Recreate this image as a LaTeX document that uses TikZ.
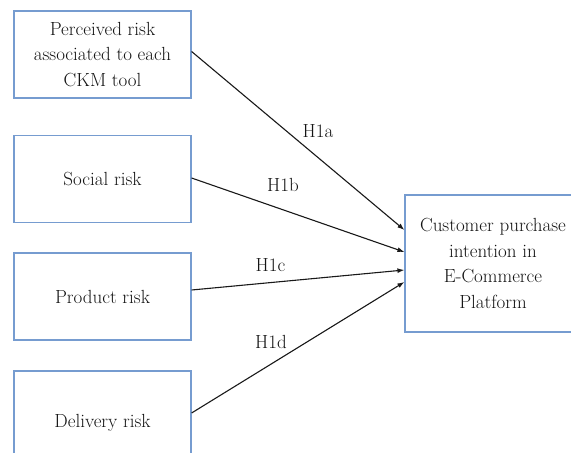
\documentclass[tikz,border=0pt]{standalone}
\usepackage{fontspec}
\usetikzlibrary{arrows.meta}
\definecolor{boxblue}{RGB}{118,156,208}
\definecolor{inkgray}{RGB}{20,20,20}
\tikzset{
  riskbox/.style = {draw=boxblue, line width=1.2pt, align=center, inner sep=0pt, minimum width=177pt, minimum height=87pt, text=inkgray, font=\fontsize{19}{25.7}\selectfont},
  intentbox/.style = {riskbox, minimum width=176pt, minimum height=137pt},
  hyparrow/.style = {draw=black!90, line width=1.1pt, -{Latex[length=7pt,width=5pt]}},
  hyplabel/.style = {text=inkgray, inner sep=0pt, font=\fontsize{19}{20}\selectfont}
}

\begin{document}
\begin{tikzpicture}[x=1pt, y=-1pt]
      \useasboundingbox (0,0) rectangle (571,453);
      \node [riskbox] (perceived) at (102.5,54.5) {Perceived risk\\associated to each\\CKM tool};
      \node [riskbox] (social) at (102.5,179) {Social risk};
      \node [riskbox] (product) at (102.5,296.5) {Product risk};
      \node [riskbox, minimum height=104pt] (delivery) at (102.5,423) {Delivery risk};
      \node [intentbox] (intent) at (493,263.5) {Customer purchase\\intention in\\E-Commerce\\Platform};
      \draw [hyparrow] ([yshift=3pt]perceived.east) -- ([yshift=33.5pt]intent.west);
      \draw [hyparrow] ([yshift=1pt]social.east) -- ([yshift=11.5pt]intent.west);
      \draw [hyparrow] ([yshift=6.5pt]product.east) -- ([yshift=-6.5pt]intent.west);
      \draw [hyparrow] ([yshift=10pt]delivery.east) -- ([yshift=-18.5pt]intent.west);
      \node [hyplabel] (h1a) at (318,131) {H1a};
      \node [hyplabel] (h1b) at (283,185) {H1b};
      \node [hyplabel] (h1c) at (270.5,265) {H1c};
      \node [hyplabel] (h1d) at (271,341.5) {H1d};
    \end{tikzpicture}
\end{document}
